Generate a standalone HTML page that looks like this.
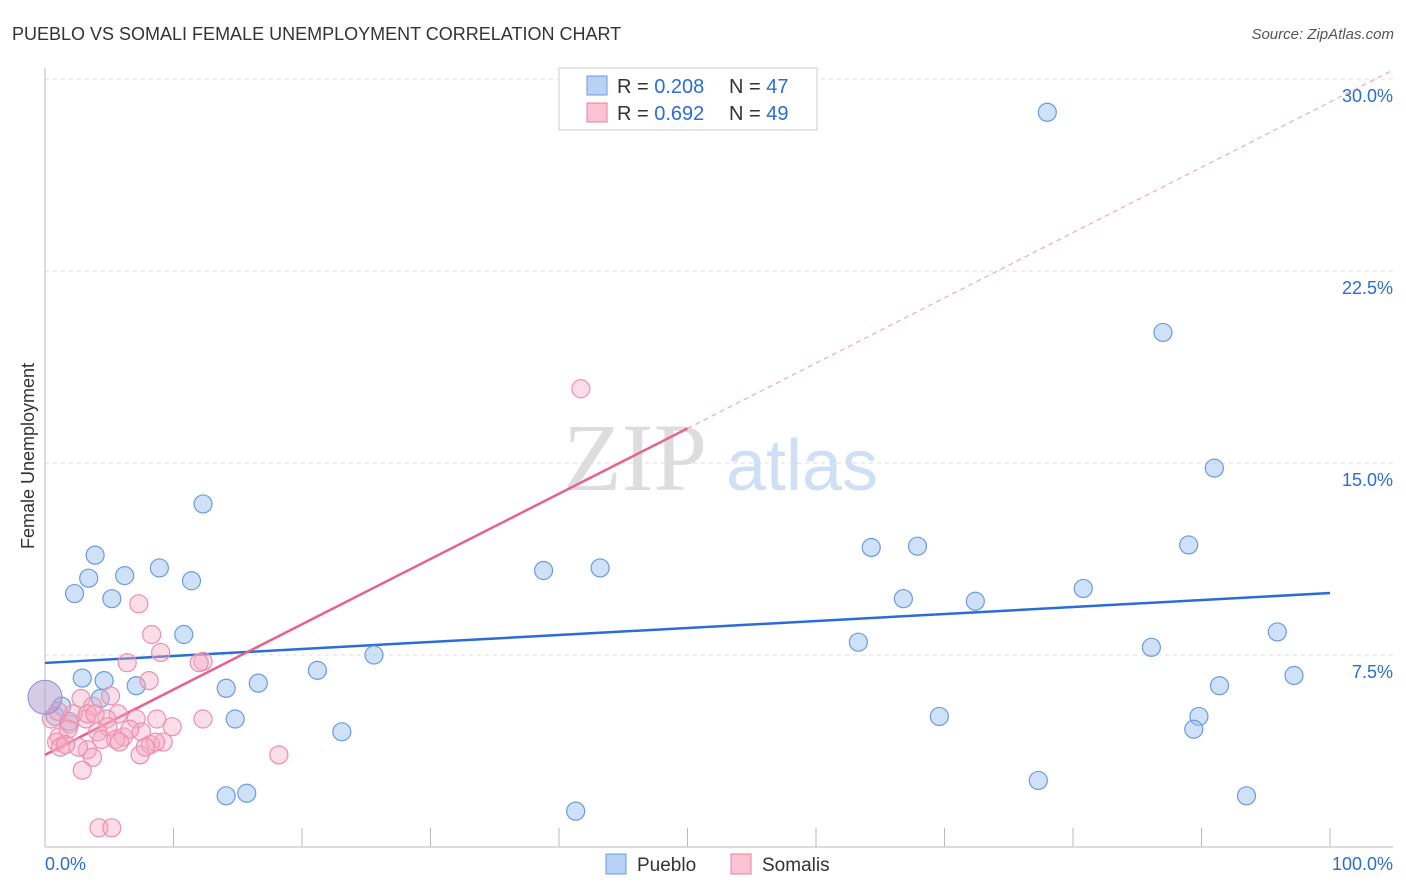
<!DOCTYPE html>
<html><head><meta charset="utf-8"><style>
body{margin:0;background:#fff;font-family:"Liberation Sans",sans-serif}
svg{display:block}
</style></head><body>
<svg id="c" width="1406" height="892" xmlns="http://www.w3.org/2000/svg">
<text x="12" y="40" font-size="18" fill="#333">PUEBLO VS SOMALI FEMALE UNEMPLOYMENT CORRELATION CHART</text>
<text x="1394" y="39" font-size="15" fill="#555" font-style="italic" text-anchor="end">Source: ZipAtlas.com</text>
<text x="0" y="0" transform="translate(34,456) rotate(-90)" font-size="18" fill="#333" text-anchor="middle">Female Unemployment</text>
<g><text x="635" y="490" font-size="96" font-family="Liberation Serif,serif" fill="#ddd" text-anchor="middle">ZIP</text><text x="802" y="490" font-size="72" fill="#cfe0f5" text-anchor="middle">atlas</text></g>
<g id="grid"></g><g id="axes"></g><g id="lines"></g><g id="pts"></g>
<g>
<rect x="559" y="68" width="258" height="62" fill="#fff" stroke="#ccc"/>
<rect x="587" y="76" width="20" height="19" fill="#b8d2f5" stroke="#6a9be0"/>
<rect x="587" y="103" width="20" height="19" fill="#f9c3d3" stroke="#e87fa0"/>
<text x="617" y="93" font-size="20" fill="#333">R = <tspan fill="#2a6dd4">0.208</tspan></text>
<text x="729" y="93" font-size="20" fill="#333">N = <tspan fill="#2a6dd4">47</tspan></text>
<text x="617" y="120" font-size="20" fill="#333">R = <tspan fill="#2a6dd4">0.692</tspan></text>
<text x="729" y="120" font-size="20" fill="#333">N = <tspan fill="#2a6dd4">49</tspan></text>
</g>
<g>
<rect x="606" y="854" width="20" height="20" fill="#b8d2f5" stroke="#6a9be0"/>
<text x="637" y="871" font-size="19" fill="#333">Pueblo</text>
<rect x="731" y="854" width="20" height="20" fill="#f9c3d3" stroke="#e87fa0"/>
<text x="762" y="871" font-size="19" fill="#333">Somalis</text>
</g>
</svg>
<script>
const yTicks=[7.5,15,22.5,30];
const yTickLabels=["7.5%","15.0%","22.5%","30.0%"];
const xTicks=[0,10,20,30,40,50,60,70,80,90,100];
const puebloX=[78,87,91,12.3,3.9,64.3,67.9,89,38.8,43.2,8.9,6.2,3.4,11.4,2.3,5.2,80.8,66.8,72.4,10.8,95.9,63.3,86.1,25.6,21.2,97.2,2.9,4.6,16.6,7.1,14.1,91.4,4.3,1.3,0.8,14.8,69.6,89.8,89.4,23.1,77.3,14.1,15.7,93.5,41.3,1.9];
const puebloY=[28.7,20.1,14.8,13.4,11.4,11.7,11.75,11.8,10.8,10.9,10.9,10.6,10.5,10.4,9.9,9.7,10.1,9.7,9.6,8.3,8.4,8.0,7.8,7.5,6.9,6.7,6.6,6.5,6.4,6.3,6.2,6.3,5.8,5.5,5.1,5.0,5.1,5.1,4.6,4.5,2.6,2.0,2.1,2.0,1.4,4.9];
const somaliX=[41.7,7.3,8.3,9.0,6.4,12.3,12.0,8.1,2.8,5.1,3.7,5.7,8.7,12.3,7.1,4.8,3.2,1.9,0.5,9.9,4.9,4.1,7.5,1.1,6.1,4.4,5.5,9.2,0.9,8.2,3.3,1.2,7.4,18.2,3.7,2.9,4.2,5.2,2.2,1.8,6.6,3.3,5.8,1.0,8.6,2.6,3.9,1.6,7.8];
const somaliY=[17.9,9.5,8.3,7.6,7.2,7.25,7.2,6.5,5.8,5.9,5.5,5.2,5.0,5.0,5.0,5.0,5.0,4.8,5.0,4.7,4.7,4.5,4.5,4.3,4.3,4.2,4.2,4.1,4.1,4.0,3.8,3.9,3.6,3.6,3.5,3.0,0.75,0.75,5.2,4.6,4.6,5.2,4.1,5.3,4.1,3.9,5.2,4.0,3.9];
const puebloTrend=[7.19,9.92];
const somaliTrend=[3.6,29.1];
const X=v=>45+v*12.85, Y=v=>847-v*25.6, NS="http://www.w3.org/2000/svg";
function mk(t,a,p){const e=document.createElementNS(NS,t);for(const k in a)e.setAttribute(k,a[k]);document.getElementById(p).appendChild(e);return e;}
yTicks.forEach((t,i)=>{
 const g=mk('line',{x1:45,x2:1393,y1:Y(t),y2:Y(t),stroke:'#ddd','stroke-dasharray':'4,4'},'grid');
 
 
 const l=mk('text',{x:1393,y:Y(t)+23,'font-size':18,fill:'#2a6dd4','text-anchor':'end'},'axes');l.textContent=yTickLabels[i];
 
 
});
const ax=mk('line',{x1:45,x2:1393,y1:847,y2:847,stroke:'#bbb'},'axes');


const ay=mk('line',{x1:45,x2:45,y1:68,y2:847,stroke:'#bbb'},'axes');


xTicks.forEach(t=>{const e=mk('line',{x1:X(t),x2:X(t),y1:828,y2:847,stroke:'#bbb'},'axes');
 
 });
const l0=mk('text',{x:45,y:870,'font-size':18,fill:'#2a6dd4'},'axes');l0.textContent='0.0%';


const l1=mk('text',{x:1393,y:870,'font-size':18,fill:'#2a6dd4','text-anchor':'end'},'axes');l1.textContent='100.0%';


puebloX.forEach((x,i)=>{const c=mk('circle',{cx:X(x),cy:Y(puebloY[i]),r:9,fill:'rgba(160,196,240,0.5)',stroke:'#6a9be0','stroke-width':1.2},'pts');
 
 });
somaliX.forEach((x,i)=>{const c=mk('circle',{cx:X(x),cy:Y(somaliY[i]),r:9,fill:'rgba(246,170,195,0.4)',stroke:'#ec8fae','stroke-width':1.2},'pts');
 
 });
const big=mk('circle',{cx:X(0),cy:Y(5.85),r:17,fill:'rgba(180,160,210,0.55)',stroke:'#8a8fd0'},'pts');


const bt=mk('line',{x1:X(0),y1:Y(puebloTrend[0]),x2:X(100),y2:Y(puebloTrend[1]),stroke:'#2a6dd4','stroke-width':2.5},'lines');


const sv=x=>somaliTrend[0]+(somaliTrend[1]-somaliTrend[0])*x/100;
const st=mk('line',{x1:X(0),y1:Y(sv(0)),x2:X(50),y2:Y(sv(50)),stroke:'#e8608c','stroke-width':2.5},'lines');


const sd=mk('line',{x1:X(50),y1:Y(sv(50)),x2:X(104.9),y2:Y(sv(104.9)),stroke:'#f0a8bf','stroke-width':1.2,'stroke-dasharray':'5,4'},'lines');


</script>
</body></html>
